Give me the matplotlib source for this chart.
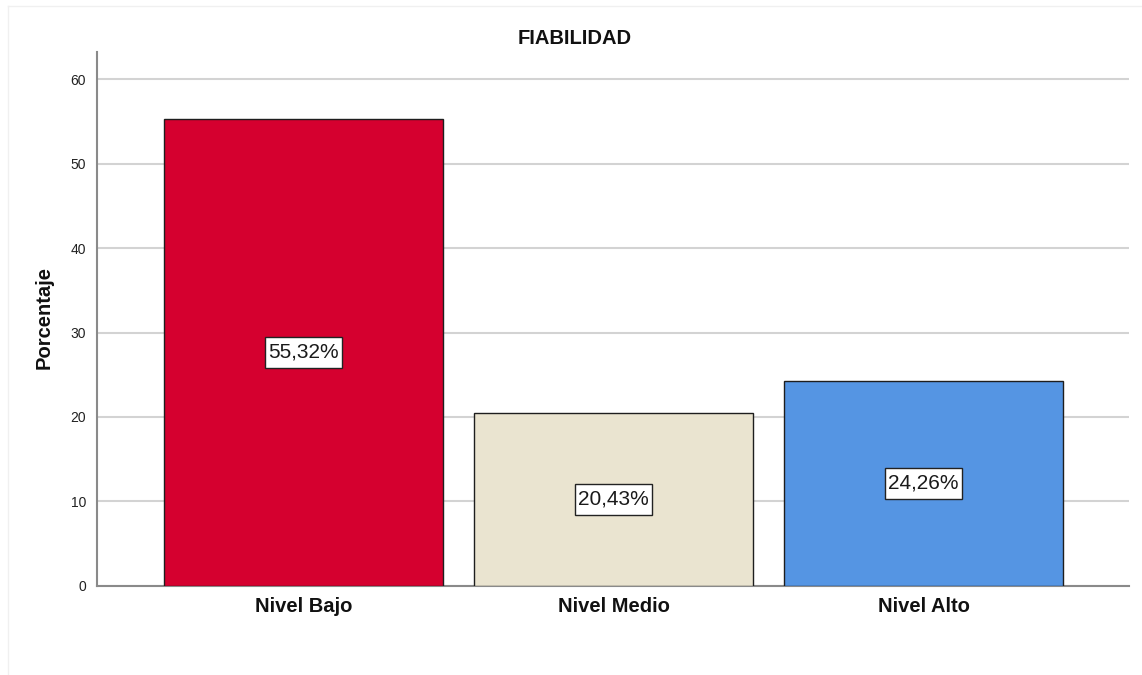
import matplotlib
matplotlib.use("Agg")
import matplotlib.pyplot as plt
from matplotlib.lines import Line2D
from matplotlib.path import Path

plt.rcParams['font.family'] = ['Liberation Sans', 'DejaVu Sans']

categories = ["Nivel Bajo", "Nivel Medio", "Nivel Alto"]
percentages = [55.32, 20.43, 24.26]
bar_colors = ["#D5002F", "#EAE4D0", "#5595E3"]
y_ticks = [0, 10, 20, 30, 40, 50, 60]
title = "FIABILIDAD"
y_label = "Porcentaje"

W, H = 1142, 675
fig = plt.figure(figsize=(W / 100, H / 100), dpi=100)
fig.patch.set_facecolor("white")

# faint outer frame
fig.add_artist(Line2D([8 / W, 8 / W], [0, 1 - 6 / H], transform=fig.transFigure,
                      color="#f0f0f0", lw=1))
fig.add_artist(Line2D([8 / W, 1], [1 - 6 / H, 1 - 6 / H], transform=fig.transFigure,
                      color="#f0f0f0", lw=1))

left, right, bottom, top = 97 / W, 1129 / W, 1 - 585.7 / H, 1 - 52.3 / H
ax = fig.add_axes([left, bottom, right - left, top - bottom])

x = list(range(len(categories)))
bars = ax.bar(x, percentages, width=0.9, color=bar_colors, edgecolor="#1e1e1e",
              linewidth=1.0, zorder=3)


def label_box(x0, y0, width, height, mutation_size):
    """Rectangular box with separate horizontal and vertical padding."""
    px = 0.16 * mutation_size
    py = 0.28 * mutation_size
    xa, xb = x0 - px, x0 + width + px
    ya, yb = y0 - py, y0 + height + py
    return Path([(xa, ya), (xb, ya), (xb, yb), (xa, yb), (xa, ya)], closed=True)


for xi, v in zip(x, percentages):
    ax.text(xi, v / 2, f"{v:.2f}%".replace(".", ","), ha="center", va="center",
            fontsize=15, color="#1a1a1a", zorder=4,
            bbox=dict(boxstyle=label_box, facecolor="white",
                      edgecolor="#222222", linewidth=1.0))

ax.set_xlim(-0.666, 2.663)
ax.set_ylim(0, 63.2)
ax.set_yticks(y_ticks)
ax.set_yticklabels([str(t) for t in y_ticks], fontsize=10, color="#222222")
ax.set_xticks(x)
ax.set_xticklabels(categories, fontsize=14.5, fontweight="bold", color="#111111")
ax.tick_params(axis="y", length=0, pad=8)
ax.tick_params(axis="x", length=0, pad=8)

ax.yaxis.grid(True, color="#d3d3d3", linewidth=1.5, zorder=0)
ax.set_axisbelow(True)
for s in ["top", "right"]:
    ax.spines[s].set_visible(False)
for s in ["left", "bottom"]:
    ax.spines[s].set_color("#8a8a8a")
    ax.spines[s].set_linewidth(1.5)

fig.text(575 / W, 1 - 38 / H, title, ha="center", va="center",
         fontsize=14.5, fontweight="bold", color="#111111")
fig.text(44 / W, 1 - 318 / H, y_label, ha="center", va="center", rotation=90,
         fontsize=14.5, fontweight="bold", color="#111111")

fig.savefig("out.png", dpi=100, facecolor="white")
